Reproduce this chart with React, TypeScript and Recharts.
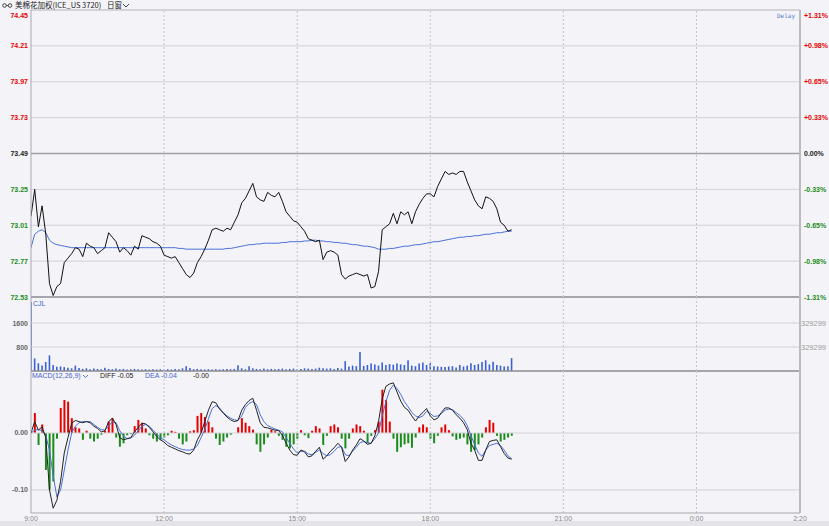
import React from 'react'
import { ComposedChart, Line, Bar, Cell, XAxis, YAxis, ReferenceLine } from 'recharts'

const W = 829
const STEP = 5 // minutes between samples, starting 9:00
const PREV_CLOSE = 73.49

const RED = '#e60000'
const GREEN = '#1a8c1a'
const BLUE = '#4a6fd8'
const GRID = '#d2d2d6'
const FONT = '"Liberation Sans", Arial, sans-serif'

const priceTicks = [72.53, 72.77, 73.01, 73.25, 73.49, 73.73, 73.97, 74.21, 74.45]
const pctLabels = ['-1.31%', '-0.98%', '-0.65%', '-0.33%', '0.00%', '+0.33%', '+0.65%', '+0.98%', '+1.31%']
const volTicks = [800, 1600]
const volRightLabel = '329299'
const macdTicks = [-0.1, 0]
const timeTicks = [0, 180, 360, 540, 720, 900, 1040]
const timeLabels = ['9:00', '12:00', '15:00', '18:00', '21:00', '0:00', '2:20']
const gridTimes = [180, 360, 540, 720, 900]

const price = [
  73.07, 73.25, 73.0, 73.14, 72.95, 72.62, 72.54, 72.6, 72.62, 72.76,
  72.79, 72.82, 72.86, 72.85, 72.8, 72.89, 72.87, 72.86, 72.82, 72.84,
  72.86, 72.96, 72.93, 72.9, 72.83, 72.86, 72.84, 72.81, 72.87, 72.85,
  72.94, 72.93, 72.92, 72.9, 72.89, 72.87, 72.81, 72.8, 72.79, 72.8,
  72.76, 72.72, 72.68, 72.66, 72.69, 72.76, 72.8, 72.85, 72.91, 72.98,
  72.99, 72.98, 72.97, 72.99, 72.98, 73.03, 73.08, 73.16, 73.19, 73.24,
  73.29, 73.2, 73.18, 73.17, 73.23, 73.21, 73.2, 73.23, 73.17, 73.1,
  73.07, 73.04, 73.03, 73.0, 72.97, 72.92, 72.91, 72.9, 72.91, 72.78,
  72.83, 72.84, 72.83, 72.81, 72.68, 72.65, 72.67, 72.68, 72.69, 72.68,
  72.67, 72.68, 72.59, 72.6, 72.7, 72.98, 73.0, 73.02, 73.09, 73.02,
  73.1, 73.08, 73.1, 73.02, 73.1, 73.15, 73.19, 73.22, 73.22, 73.2,
  73.27, 73.32, 73.37, 73.35, 73.36, 73.35, 73.37, 73.37, 73.3, 73.24,
  73.18, 73.14, 73.12, 73.2, 73.19, 73.17, 73.12, 73.03, 73.01, 72.97,
  72.98,
]

const avg = [
  72.86, 72.95, 72.97, 72.98, 72.96, 72.91, 72.89, 72.88, 72.875, 72.87,
  72.865, 72.86, 72.86, 72.86, 72.86, 72.86, 72.86, 72.86, 72.86, 72.86,
  72.86, 72.86, 72.86, 72.86, 72.86, 72.86, 72.86, 72.86, 72.86, 72.86,
  72.86, 72.86, 72.86, 72.86, 72.86, 72.86, 72.86, 72.86, 72.86, 72.86,
  72.855, 72.855, 72.85, 72.85, 72.85, 72.85, 72.85, 72.85, 72.85, 72.85,
  72.85, 72.85, 72.85, 72.855, 72.855, 72.86, 72.865, 72.87, 72.875, 72.88,
  72.88, 72.885, 72.885, 72.89, 72.89, 72.89, 72.89, 72.89, 72.895, 72.895,
  72.9, 72.9, 72.9, 72.9, 72.905, 72.905, 72.91, 72.91, 72.905, 72.905,
  72.9, 72.9, 72.895, 72.895, 72.89, 72.89, 72.885, 72.88, 72.88, 72.875,
  72.87, 72.87, 72.865, 72.86, 72.85, 72.85, 72.85, 72.855, 72.855, 72.86,
  72.865, 72.87, 72.87, 72.875, 72.88, 72.88, 72.885, 72.89, 72.895, 72.9,
  72.9, 72.905, 72.91, 72.915, 72.92, 72.925, 72.93, 72.93, 72.935, 72.935,
  72.94, 72.94, 72.945, 72.95, 72.95, 72.955, 72.96, 72.96, 72.965, 72.97,
  72.97,
]

const vol = [
  2300, 420, 260, 180, 300, 520, 200, 140, 150, 130,
  110, 90, 180, 100, 70, 90, 60, 80, 70, 60,
  110, 70, 60, 80, 60, 70, 50, 60, 70, 60,
  50, 60, 50, 60, 50, 60, 50, 60, 50, 70,
  60, 90, 160, 100, 60, 70, 60, 50, 60, 50,
  60, 50, 60, 70, 60, 70, 190, 90, 60, 160,
  90, 70, 60, 80, 60, 70, 60, 70, 80, 60,
  70, 80, 60, 70, 90, 80, 70, 80, 110, 90,
  80, 90, 70, 100, 80, 330, 150, 180, 160, 630,
  170, 200, 250, 220, 180, 280, 200, 230, 210, 250,
  220, 200, 360, 180, 160, 250, 280, 200, 260, 160,
  150, 140, 130, 150, 160, 120, 200, 150, 180, 260,
  200, 230, 300, 360, 220, 310, 200, 180, 150, 160,
  430,
]

const diff = [
  0.0, 0.02, 0.005, 0.011, -0.008, -0.1, -0.132, -0.118, -0.085, -0.035,
  -0.008, 0.017, 0.022, 0.02, 0.018, 0.02, 0.018, 0.012, 0.008, 0.002,
  0.004, 0.02, 0.026, 0.015, -0.008, -0.012, -0.01, -0.008, 0.002, 0.01,
  0.017, 0.016, 0.01, 0.002, -0.006, -0.012, -0.016, -0.022, -0.025, -0.028,
  -0.031, -0.033, -0.036, -0.037, -0.03, -0.012, 0.0, 0.02, 0.04, 0.055,
  0.053, 0.042, 0.035, 0.028, 0.023, 0.02, 0.022, 0.04, 0.05, 0.057,
  0.061, 0.04, 0.018, 0.01, 0.009, 0.007, 0.005, 0.004, -0.004, -0.018,
  -0.03, -0.038, -0.039, -0.03, -0.033, -0.042, -0.04, -0.032, -0.025, -0.046,
  -0.04, -0.032, -0.026, -0.018, -0.025, -0.05, -0.042, -0.03, -0.021, -0.01,
  -0.014, -0.02, -0.018, -0.005, 0.02, 0.06, 0.082, 0.086, 0.088, 0.072,
  0.056, 0.045, 0.04, 0.03, 0.021, 0.03, 0.036, 0.043, 0.03, 0.023,
  0.026, 0.036, 0.044, 0.044, 0.04, 0.032, 0.026, 0.018, 0.006, -0.018,
  -0.03, -0.048, -0.048, -0.03, -0.015, -0.013, -0.012, -0.024, -0.036, -0.044,
  -0.046,
]

const dea = [
  0.0, 0.005, 0.006, 0.004, -0.005, -0.03, -0.075, -0.112, -0.1, -0.065,
  -0.03, 0.0, 0.012, 0.018, 0.02, 0.02, 0.02, 0.015, 0.01, 0.006,
  0.005, 0.012, 0.02, 0.018, 0.004, -0.005, -0.01, -0.009, -0.004, 0.004,
  0.012, 0.015, 0.012, 0.005, -0.002, -0.008, -0.012, -0.017, -0.021, -0.024,
  -0.027, -0.029, -0.03, -0.03, -0.028, -0.022, -0.008, 0.006, 0.025, 0.043,
  0.048, 0.044, 0.036, 0.03, 0.026, 0.023, 0.022, 0.03, 0.045, 0.052,
  0.055, 0.05, 0.032, 0.02, 0.013, 0.01, 0.007, 0.005, 0.002, -0.008,
  -0.018, -0.028, -0.035, -0.032, -0.032, -0.037, -0.038, -0.034, -0.03, -0.036,
  -0.04, -0.038, -0.032, -0.025, -0.024, -0.038, -0.04, -0.032, -0.025, -0.017,
  -0.015, -0.017, -0.018, -0.01, 0.0, 0.03, 0.055, 0.075, 0.084, 0.078,
  0.068, 0.055, 0.046, 0.036, 0.03, 0.027, 0.03, 0.038, 0.034, 0.029,
  0.03, 0.034, 0.04, 0.042, 0.041, 0.036, 0.031, 0.024, 0.013, -0.005,
  -0.02, -0.035, -0.041, -0.03, -0.022, -0.02, -0.018, -0.022, -0.03, -0.04,
  -0.045,
]

const hist = [
  0.0, 0.035, -0.021, 0.015, -0.065, -0.1, -0.085, -0.01, 0.044, 0.058,
  0.055, 0.026, 0.01, 0.008, -0.012, 0.004, -0.01, -0.015, -0.01, -0.003,
  0.004, 0.02, 0.026, -0.008, -0.024, -0.018, -0.004, -0.002, 0.012, 0.023,
  0.018, 0.008, -0.004, -0.01, -0.015, -0.012, -0.008, -0.004, 0.004, 0.002,
  -0.01, -0.02, -0.015, 0.003, 0.005, 0.03, 0.035, 0.028, 0.02, 0.01,
  -0.01, -0.021, -0.015, -0.008, -0.003, 0.0, 0.01, 0.026, 0.018, 0.012,
  0.006, -0.02, -0.033, -0.02, -0.008, 0.006, 0.003, -0.005, -0.012, -0.024,
  -0.027, -0.02, -0.01, 0.005, -0.004, -0.009, 0.004, 0.012, 0.008, -0.021,
  -0.005, 0.012, 0.015, 0.01, -0.01, -0.027, -0.01, 0.008, 0.015, 0.012,
  0.004, -0.018, -0.005, 0.005, 0.02, 0.076, 0.058, 0.02, -0.01, -0.033,
  -0.025, -0.02, -0.018, -0.026, -0.008, 0.01, 0.015, 0.01, -0.01, -0.018,
  -0.005, 0.01, 0.015, 0.005, -0.006, -0.012, -0.01, -0.008, -0.02, -0.033,
  -0.03, -0.02, -0.008, 0.01, 0.023, 0.018, -0.005, -0.015, -0.012, -0.008,
  -0.005,
]

const rows = price.map((p, i) => ({
  t: i * STEP,
  price: p,
  avg: avg[i],
  vol: vol[i],
  diff: diff[i],
  dea: dea[i],
  hist: hist[i],
}))

function priceColor(v: number) {
  if (v > PREV_CLOSE + 1e-6) return RED
  if (v < PREV_CLOSE - 1e-6) return GREEN
  return '#222'
}

function PriceTick(props: any) {
  const v = props.payload.value
  const shift = v === 74.45 ? 5 : 0
  return (
    <text x={28} y={props.y + shift + 2.5} textAnchor="end" fill={priceColor(v)}
      fontSize={7} fontWeight="bold" fontFamily={FONT}>{v.toFixed(2)}</text>
  )
}

function PctTick(props: any) {
  const v = props.payload.value
  const i = priceTicks.indexOf(v)
  const shift = v === 74.45 ? 5 : 0
  return (
    <text x={804} y={props.y + shift + 2.5} textAnchor="start" fill={priceColor(v)}
      fontSize={7} fontWeight="bold" fontFamily={FONT}>{pctLabels[i]}</text>
  )
}

function GrayTick(props: any) {
  const v = props.payload.value
  const txt = Math.abs(v) < 1 ? v.toFixed(2) : String(v)
  return (
    <text x={28} y={props.y + 2.5} textAnchor="end" fill="#666"
      fontSize={7} fontWeight="bold" fontFamily={FONT}>{txt}</text>
  )
}

function VolRightTick(props: any) {
  return (
    <text x={801} y={props.y + 3} textAnchor="start" fill="#999"
      fontSize={7.5} fontFamily={FONT}>{volRightLabel}</text>
  )
}

// y is local to the MACD chart, which starts at page y = 363
function TimeTick(props: any) {
  const i = timeTicks.indexOf(props.payload.value)
  return (
    <text x={props.x} y={158} textAnchor="middle" fill="#888"
      fontSize={7} fontFamily={FONT}>{timeLabels[i]}</text>
  )
}

function vLines() {
  return gridTimes.map((t) => (
    <ReferenceLine key={'v' + t} yAxisId="l" x={t} stroke="#c6c6ca" strokeDasharray="2 2" />
  ))
}

export default function App() {
  return (
    <div style={{ position: 'absolute', left: 0, top: 0, width: W, height: 526, background: '#f4f4f8', overflow: 'hidden' }}>
      <div style={{ position: 'absolute', left: 0, top: 521, width: W, height: 5, background: '#e4e4e8' }} />

      {/* price */}
      <div style={{ position: 'absolute', left: 0, top: 0 }}>
        <ComposedChart width={W} height={305} data={rows} margin={{ top: 10, right: 0, bottom: 8, left: 0 }}>
          <XAxis type="number" dataKey="t" domain={[0, 1040]} allowDataOverflow hide />
          <YAxis yAxisId="l" width={31} domain={[72.53, 74.45]} allowDataOverflow ticks={priceTicks} interval={0}
            tick={<PriceTick />} tickLine={false} axisLine={{ stroke: '#a8a8ac' }} />
          <YAxis yAxisId="r" orientation="right" width={29} domain={[72.53, 74.45]} allowDataOverflow ticks={priceTicks} interval={0}
            tick={<PctTick />} tickLine={false} axisLine={{ stroke: '#bcbcc0', strokeWidth: 2 }} />
          {priceTicks.map((v) => (
            <ReferenceLine key={v} yAxisId="l" y={v}
              stroke={v === PREV_CLOSE ? '#a0a0a4' : v === 72.53 ? '#8c8c90' : v === 74.45 ? '#b4b4b8' : GRID}
              strokeWidth={v === PREV_CLOSE || v === 72.53 ? 1.5 : 1} />
          ))}
          {vLines()}
          <Line yAxisId="l" dataKey="avg" stroke={BLUE} strokeWidth={1} dot={false} isAnimationActive={false} />
          <Line yAxisId="l" dataKey="price" stroke="#111" strokeWidth={1} dot={false} isAnimationActive={false} />
        </ComposedChart>
      </div>

      {/* volume */}
      <div style={{ position: 'absolute', left: 0, top: 289 }}>
        <ComposedChart width={W} height={90} data={rows} margin={{ top: 8, right: 0, bottom: 8, left: 0 }}>
          <XAxis type="number" dataKey="t" domain={[0, 1040]} allowDataOverflow hide />
          <YAxis yAxisId="l" width={31} domain={[0, 2467]} allowDataOverflow ticks={volTicks} interval={0}
            tick={<GrayTick />} tickLine={false} axisLine={{ stroke: '#a8a8ac' }} />
          <YAxis yAxisId="r" orientation="right" width={29} domain={[0, 2467]} allowDataOverflow ticks={volTicks} interval={0}
            tick={<VolRightTick />} tickLine={false} axisLine={{ stroke: '#bcbcc0', strokeWidth: 2 }} />
          {volTicks.map((v) => (
            <ReferenceLine key={v} yAxisId="l" y={v} stroke={GRID} />
          ))}
          <ReferenceLine yAxisId="l" y={0} stroke="#8c8c90" strokeWidth={1.5} />
          {vLines()}
          <Bar yAxisId="l" dataKey="vol" fill="#3a62d4" barSize={1.6} isAnimationActive={false} />
        </ComposedChart>
      </div>

      {/* macd */}
      <div style={{ position: 'absolute', left: 0, top: 363 }}>
        <ComposedChart width={W} height={163} data={rows} margin={{ top: 8, right: 0, bottom: 1, left: 0 }}>
          <XAxis type="number" dataKey="t" domain={[0, 1040]} allowDataOverflow ticks={timeTicks} interval={0}
            height={12} tick={<TimeTick />} tickLine={false} axisLine={{ stroke: '#a8a8ac' }} />
          <YAxis yAxisId="l" width={31} domain={[-0.1404, 0.1088]} allowDataOverflow ticks={macdTicks} interval={0}
            tick={<GrayTick />} tickLine={false} axisLine={{ stroke: '#a8a8ac' }} />
          <YAxis yAxisId="r" orientation="right" width={29} domain={[-0.1404, 0.1088]} allowDataOverflow tick={false}
            tickLine={false} axisLine={{ stroke: '#bcbcc0', strokeWidth: 2 }} />
          {macdTicks.map((v) => (
            <ReferenceLine key={v} yAxisId="l" y={v} stroke={GRID} />
          ))}
          {vLines()}
          <Bar yAxisId="l" dataKey="hist" barSize={2} isAnimationActive={false}>
            {rows.map((r, i) => <Cell key={i} fill={r.hist >= 0 ? RED : GREEN} />)}
          </Bar>
          <Line yAxisId="l" dataKey="dea" stroke={BLUE} strokeWidth={1} dot={false} isAnimationActive={false} />
          <Line yAxisId="l" dataKey="diff" stroke="#222" strokeWidth={1} dot={false} isAnimationActive={false} />
        </ComposedChart>
      </div>

      {/* panel captions */}
      <svg width={W} height={526} style={{ position: 'absolute', left: 0, top: 0, pointerEvents: 'none' }}>
        <circle cx={4.5} cy={5.5} r={1.8} fill="none" stroke="#333" strokeWidth={0.9} />
        <circle cx={10} cy={5.5} r={1.8} fill="none" stroke="#333" strokeWidth={0.9} />
        <line x1={6.3} y1={5.5} x2={8.2} y2={5.5} stroke="#333" strokeWidth={0.9} />
        <text x={15} y={8} fontSize={7.5} fill="#222" fontFamily='"Noto Sans CJK SC", sans-serif'>美棉花加权(ICE_US 3720)</text>
        <text x={107} y={8} fontSize={7.5} fill="#222" fontFamily='"Noto Sans CJK SC", sans-serif'>日窗</text>
        <path d="M123 4 L126 7 L129 4" fill="none" stroke="#333" strokeWidth={0.9} />
        <text x={777} y={18} fontSize={6} fill="#5577cc" fontFamily='"DejaVu Sans Mono", monospace'>Delay</text>
        <text x={33} y={306} fontSize={7} fill="#4466cc" fontFamily={FONT}>CJL</text>
        <text x={32} y={378} fontSize={7} fill="#4466cc" fontFamily={FONT}>MACD(12,26,9)</text>
        <path d="M83 375 L85.5 377.5 L88 375" fill="none" stroke="#4466cc" strokeWidth={0.9} />
        <text x={100} y={378} fontSize={7} fill="#222" fontFamily={FONT}>DIFF -0.05</text>
        <text x={145} y={378} fontSize={7} fill="#4466cc" fontFamily={FONT}>DEA -0.04</text>
        <text x={193} y={378} fontSize={7} fill="#222" fontFamily={FONT}>-0.00</text>
      </svg>
    </div>
  )
}
